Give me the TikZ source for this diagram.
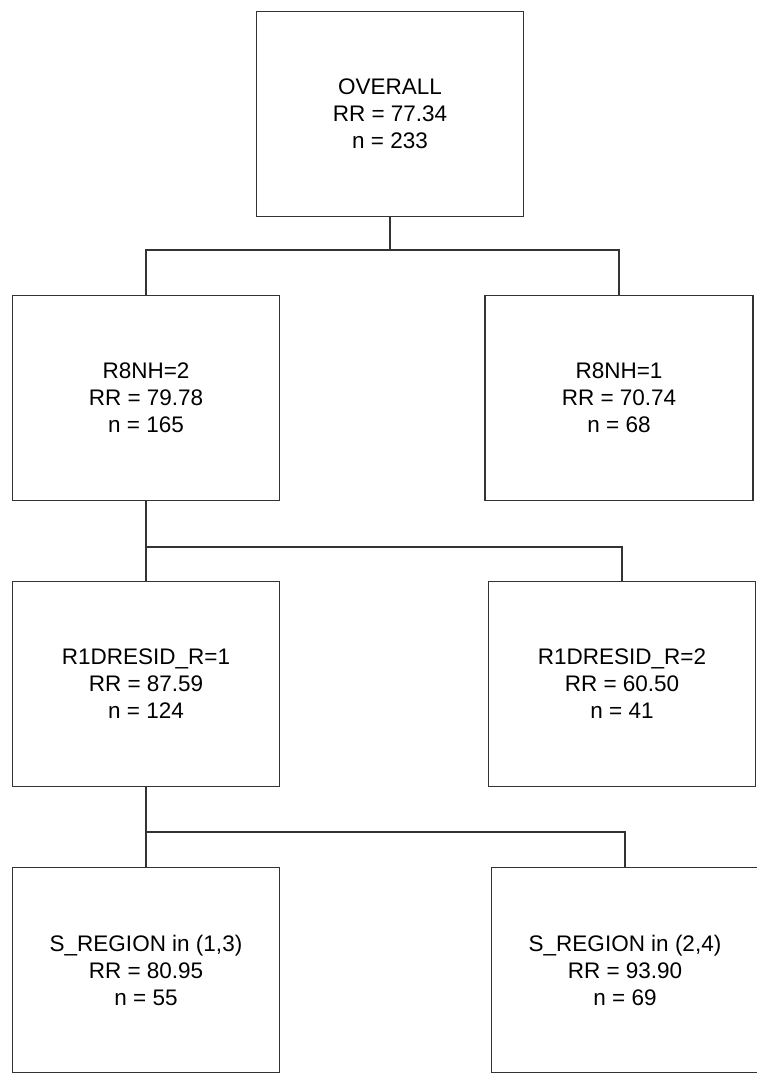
\documentclass[tikz,border=0pt]{standalone}
\usepackage{fontspec}
\setmainfont{Liberation Sans}
\usetikzlibrary{positioning}

\begin{document}
\begin{tikzpicture}[
        x=1pt, y=-1pt,
        split/.style={draw=black!80, line width=1.7pt, fill=white,
            minimum width=267pt, minimum height=205pt, inner sep=0pt,
            align=center, font=\fontsize{22.5}{27}\selectfont},
        link/.style={draw=black!80, line width=1.6pt}
        ]
            \useasboundingbox (0, 0) rectangle (756, 1078);

            % tree nodes
            \node[split] (overall) at (390, 114) {OVERALL\\RR = 77.34\\n = 233};

            \node[split] (nh2) at (146, 398) {R8NH=2\\RR = 79.78\\n = 165};
            \node[split, minimum width=268pt] (nh1) at (619, 398) {R8NH=1\\RR = 70.74\\n = 68};

            \node[split] (resid1) at (146, 684) {R1DRESID\_R=1\\RR = 87.59\\n = 124};
            \node[split] (resid2) at (622, 684) {R1DRESID\_R=2\\RR = 60.50\\n = 41};

            \node[split] (reg13) at (146, 970) {S\_REGION in (1,3)\\RR = 80.95\\n = 55};
            \node[split] (reg24) at (625, 970) {S\_REGION in (2,4)\\RR = 93.90\\n = 69};

            % branch points
            \coordinate (fork1) at (390, 250);
            \coordinate (fork2) at (146, 547);
            \coordinate (fork3) at (146, 832);

            \draw[link] (overall.south) -- (fork1);
            \draw[link] (nh2.north) |- (fork1) -| (nh1.north);

            \draw[link] (nh2.south) -- (resid1.north);
            \draw[link] (fork2) -| (resid2.north);

            \draw[link] (resid1.south) -- (reg13.north);
            \draw[link] (fork3) -| (reg24.north);
        \end{tikzpicture}
\end{document}
